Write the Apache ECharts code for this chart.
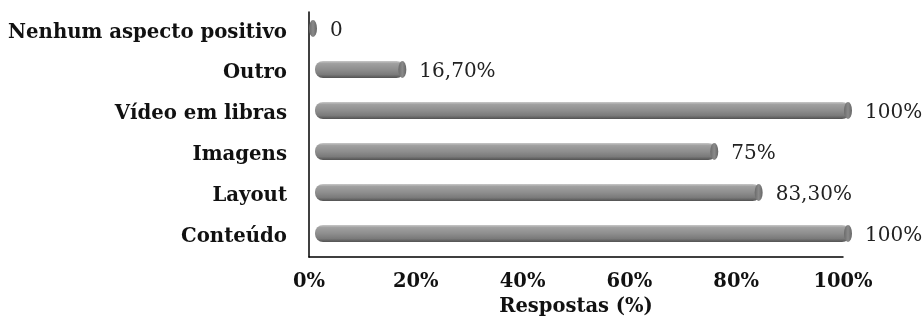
<!DOCTYPE html>
<html>
<head>
<meta charset="utf-8">
<script src="https://cdn.jsdelivr.net/npm/echarts@6/dist/echarts.min.js"></script>
<style>
  html, body { margin: 0; padding: 0; background: #fff; }
  #chart { width: 924px; height: 322px; }
</style>
</head>
<body>
<div id="chart"></div>
<script>
// dados (de cima para baixo)
const categorias = ['Nenhum aspecto positivo', 'Outro', 'Vídeo em libras', 'Imagens', 'Layout', 'Conteúdo'];
const respostas = [0, 16.7, 100, 75, 83.3, 100];
const ticksX = [0, 20, 40, 60, 80, 100];

const fonte = 'DejaVu Serif';

function rotuloValor(v){
    if (v === 0)
        return '0';
    if (Number.isInteger(v))
        return v + '%';
    return v.toFixed(2).replace('.', ',') + '%';
}

let corBarra = new echarts.graphic.LinearGradient(0, 0, 0, 1, [
    {offset: 0, color: '#c8c8c8'},
    {offset: 0.15, color: '#a0a0a0'},
    {offset: 0.5, color: '#8e8e8e'},
    {offset: 0.8, color: '#7a7a7a'},
    {offset: 1, color: '#525252'}
]);
let corTampa = new echarts.graphic.LinearGradient(0, 0, 1, 0, [
    {offset: 0, color: '#6a6a6a'},
    {offset: 0.5, color: '#8a8a8a'},
    {offset: 1, color: '#666666'}
]);

let option = {
    animation: false,
    grid: [
        // eixos visíveis
        {left: 309, right: 81, top: 12, bottom: 64},
        // barras (deslocadas pelo efeito 3D)
        {left: 315, right: 74, top: 8, bottom: 68}
    ],
    xAxis: [
        {
            gridIndex: 0,
            type: 'value',
            min: ticksX[0],
            max: ticksX[ticksX.length - 1],
            interval: 20,
            axisLine: {show: true, lineStyle: {color: '#000', width: 1.5}},
            axisTick: {show: false},
            splitLine: {show: false},
            axisLabel: {
                margin: 15,
                fontFamily: fonte, fontWeight: 'bold', fontSize: 19.5, color: '#111',
                formatter: v => v + '%'
            },
            name: 'Respostas (%)',
            nameLocation: 'middle',
            nameGap: 38,
            nameTextStyle: {fontFamily: fonte, fontWeight: 'bold', fontSize: 19.5, color: '#111'}
        },
        {
            gridIndex: 1,
            type: 'value',
            min: 0,
            max: 100,
            show: false
        }
    ],
    yAxis: [
        {
            gridIndex: 0,
            type: 'category',
            inverse: true,
            data: categorias,
            axisLine: {show: true, lineStyle: {color: '#000', width: 1.5}},
            axisTick: {show: false},
            axisLabel: {
                margin: 22,
                fontFamily: fonte, fontWeight: 'bold', fontSize: 19.7, color: '#111'
            }
        },
        {
            gridIndex: 1,
            type: 'category',
            inverse: true,
            data: categorias,
            show: false
        }
    ],
    series: [
        {
            type: 'bar',
            xAxisIndex: 1,
            yAxisIndex: 1,
            data: respostas,
            barWidth: 17,
            itemStyle: {color: corBarra, borderRadius: 8},
            label: {
                show: true,
                position: 'right',
                distance: 15,
                offset: [0, 2],
                fontFamily: fonte, fontSize: 20, color: '#222',
                formatter: p => rotuloValor(p.value)
            },
            z: 2
        },
        {
            // tampa do cilindro
            type: 'pictorialBar',
            xAxisIndex: 1,
            yAxisIndex: 1,
            data: respostas,
            symbol: 'circle',
            symbolSize: [8, 17],
            symbolPosition: 'end',
            symbolOffset: [2, 0],
            itemStyle: {color: corTampa},
            z: 3
        }
    ]
};

let grafico = echarts.init(document.getElementById('chart'));
grafico.setOption(option);
</script>
</body>
</html>
